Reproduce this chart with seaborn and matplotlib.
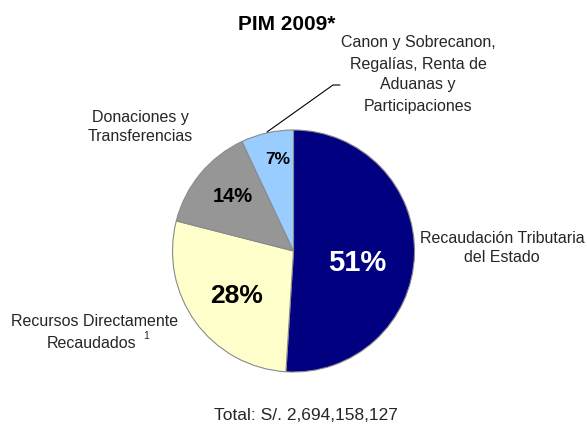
import matplotlib
matplotlib.use("Agg")
import matplotlib.pyplot as plt
from matplotlib.lines import Line2D
import seaborn as sns

# ---- data ----
categories = ["Recaudación Tributaria del Estado", "Recursos Directamente Recaudados",
              "Donaciones y Transferencias",
              "Canon y Sobrecanon, Regalías, Renta de Aduanas y Participaciones"]
shares = [51, 28, 14, 7]
pct_labels = ["51%", "28%", "14%", "7%"]
colors = ["#000080", "#FFFFCC", "#969696", "#99CCFF"]
title = "PIM 2009*"
total_text = "Total: S/. 2,694,158,127"

sns.set_theme(style="white")
plt.rcParams["font.family"] = ["Liberation Sans", "DejaVu Sans"]

W, H = 587, 426
fig = plt.figure(figsize=(W / 100, H / 100), dpi=100)
fig.patch.set_facecolor("white")

def fx(x):
    return x / W

def fy(y):
    return 1 - y / H

# pie axes: center (293.5, 251) px, radius 121 px
cx, cy, r = 293.5, 251, 121
ax = fig.add_axes([fx(cx - r), fy(cy + r), 2 * r / W, 2 * r / H])
pal = sns.color_palette(colors)
ax.pie(shares, colors=pal, startangle=90, counterclock=False,
       wedgeprops=dict(edgecolor="#8a8a8a", linewidth=0.8))
ax.set_xlim(-1.0, 1.0)
ax.set_ylim(-1.0, 1.0)
ax.set_aspect("equal")
ax.axis("off")

# percentage labels
pct_pos = [(357, 263), (237, 296), (233, 197), (278, 159)]
pct_size = [21, 19, 14.5, 12.5]
pct_col = ["white", "black", "black", "black"]
for lab, (x, y), s, c in zip(pct_labels, pct_pos, pct_size, pct_col):
    fig.text(fx(x), fy(y), lab, ha="center", va="center", fontsize=s,
             fontweight="bold", color=c)

# title
fig.text(fx(287), fy(24), title, ha="center", va="center", fontsize=15,
         fontweight="bold", color="black")

fs = 11.5
fig.text(fx(418), fy(74.5), "Canon y Sobrecanon,\nRegalías, Renta de\nAduanas y\nParticipaciones",
         ha="center", va="center", fontsize=fs, linespacing=1.5)
fig.text(fx(140), fy(127), "Donaciones y\nTransferencias", ha="center", va="center",
         fontsize=fs, linespacing=1.35)
fig.text(fx(502), fy(248), "Recaudación Tributaria\ndel Estado", ha="center", va="center",
         fontsize=fs, linespacing=1.35)
fig.text(fx(95), fy(321), "Recursos Directamente", ha="center", va="center", fontsize=fs)
fig.text(fx(92), fy(343), "Recaudados", ha="center", va="center", fontsize=fs)
fig.text(fx(146), fy(336), "1", ha="center", va="center", fontsize=7.5)

fig.text(fx(306), fy(416), total_text, ha="center", va="center", fontsize=12.5)

# leader line
fig.add_artist(Line2D([fx(267), fx(333), fx(340)], [fy(132), fy(85), fy(85)],
                      transform=fig.transFigure, color="black", linewidth=0.8))

fig.savefig("out.png", dpi=100, facecolor="white")
